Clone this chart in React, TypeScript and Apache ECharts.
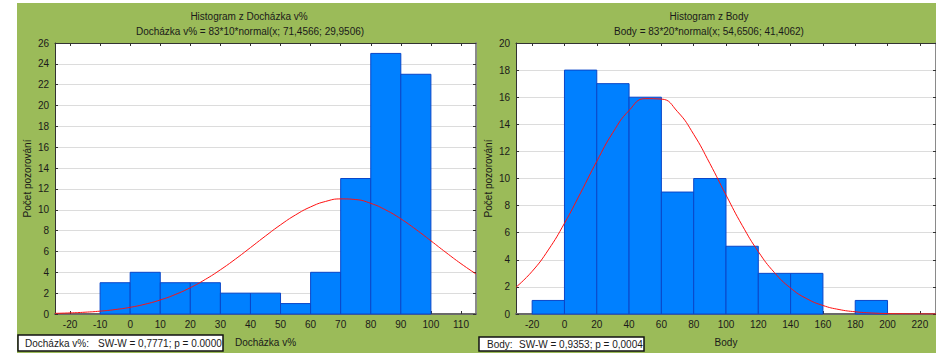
import React, { useEffect, useRef } from "react";
import * as echarts from "echarts";

// ---- Left histogram: Docházka v% ----
const leftBinStarts = [-10, 0, 10, 20, 30, 40, 50, 60, 70, 80, 90];
const leftBinWidth = 10;
const leftCounts = [3, 4, 3, 3, 2, 2, 1, 4, 13, 25, 23];
const leftXTicks = [-20, -10, 0, 10, 20, 30, 40, 50, 60, 70, 80, 90, 100, 110];
const leftCurveX = [-25, -20, -15, -10, -5, 0, 5, 10, 15, 20, 25, 30, 35, 40, 45, 50, 55, 60, 65, 70, 75, 80, 85, 90, 95, 100, 105, 110, 115];
const leftCurveY = [0.062, 0.105, 0.172, 0.274, 0.425, 0.642, 0.943, 1.348, 1.871, 2.527, 3.32, 4.242, 5.27, 6.369, 7.485, 8.554, 9.507, 10.276, 10.802, 11.043, 10.979, 10.615, 9.981, 9.128, 8.117, 7.021, 5.905, 4.83, 3.842];

// ---- Right histogram: Body ----
const rightBinStarts = [-20, 0, 20, 40, 60, 80, 100, 120, 140, 160, 180];
const rightBinWidth = 20;
const rightCounts = [1, 18, 17, 16, 9, 10, 5, 3, 3, 0, 1];
const rightXTicks = [-20, 0, 20, 40, 60, 80, 100, 120, 140, 160, 180, 200, 220];
const rightCurveX = [-30, -20, -10, 0, 10, 20, 30, 40, 50, 60, 70, 80, 90, 100, 110, 120, 130, 140, 150, 160, 170, 180, 190, 200, 210, 220, 230];
const rightCurveY = [1.979, 3.149, 4.727, 6.694, 8.942, 11.268, 13.397, 15.024, 15.893, 15.861, 14.932, 13.261, 11.109, 8.781, 6.546, 4.603, 3.055, 1.911, 1.128, 0.629, 0.33, 0.164, 0.077, 0.034, 0.014, 0.006, 0.002];

const FONT = "'Liberation Sans', Arial, sans-serif";
const TXT = "#1a1a1a";

export default function App() {
  const ref = useRef<HTMLDivElement>(null);
  useEffect(() => {
    if (!ref.current) return;
    const chart = echarts.init(ref.current, null, { renderer: "svg" });

    const renderBar = (params: any, api: any) => {
      const x0 = api.value(0);
      const x1 = api.value(1);
      const c = api.value(2);
      if (!c) return null;
      const p0 = api.coord([x0, c]);
      const p1 = api.coord([x1, 0]);
      return {
        type: "rect",
        shape: { x: p0[0], y: p0[1], width: p1[0] - p0[0], height: p1[1] - p0[1] },
        style: { fill: "#0080ff", stroke: "#0a46c8", lineWidth: 1 },
      };
    };

    const mkX = (grid: number, min: number, max: number, ticks: number[], name: string) => [
      {
        type: "value",
        gridIndex: grid,
        min,
        max,
        position: "bottom",
        name,
        nameLocation: "middle",
        nameGap: 23,
        nameTextStyle: { color: TXT, fontFamily: FONT, fontSize: 10 },
        axisLine: { show: true, onZero: false, lineStyle: { color: "#6a6a6a", width: 2 } },
        axisTick: { show: true, inside: true, length: 3, customValues: ticks, lineStyle: { color: "#333" } },
        axisLabel: { show: true, customValues: ticks, margin: 5, color: TXT, fontFamily: FONT, fontSize: 10 },
        splitLine: { show: false },
      },
      {
        type: "value",
        gridIndex: grid,
        min,
        max,
        position: "top",
        axisLine: { show: true, onZero: false, lineStyle: { color: "#333", width: 1 } },
        axisTick: { show: true, inside: true, length: 3, customValues: ticks, lineStyle: { color: "#333" } },
        axisLabel: { show: false, customValues: ticks },
        splitLine: { show: false },
      },
    ];

    const mkY = (grid: number, max: number) => [
      {
        type: "value",
        gridIndex: grid,
        min: 0,
        max,
        interval: 2,
        position: "left",
        name: "Počet pozorování",
        nameLocation: "middle",
        nameGap: 23,
        nameRotate: 90,
        nameTextStyle: { color: TXT, fontFamily: FONT, fontSize: 10 },
        axisLine: { show: true, onZero: false, lineStyle: { color: "#333", width: 1 } },
        axisTick: { show: true, inside: true, length: 3, lineStyle: { color: "#333" } },
        axisLabel: { show: true, margin: 6, color: TXT, fontFamily: FONT, fontSize: 10 },
        splitLine: { show: true, lineStyle: { color: "#dcdcdc", width: 1 } },
      },
      {
        type: "value",
        gridIndex: grid,
        min: 0,
        max,
        interval: 2,
        position: "right",
        axisLine: { show: true, onZero: false, lineStyle: { color: "#8a8a8a", width: 2 } },
        axisTick: { show: true, inside: true, length: 3, lineStyle: { color: "#333" } },
        axisLabel: { show: false },
        splitLine: { show: false },
      },
    ];

    const leftBars = leftBinStarts.map((s, i) => [s, s + leftBinWidth, leftCounts[i]]);
    const rightBars = rightBinStarts.map((s, i) => [s, s + rightBinWidth, rightCounts[i]]);
    const leftCurve = leftCurveX.map((x, i) => [x, leftCurveY[i]]);
    const rightCurve = rightCurveX.map((x, i) => [x, rightCurveY[i]]);

    const txt = (x: number, y: number, text: string, align = "center") => ({
      type: "text",
      x,
      y,
      z: 10,
      style: { text, fill: TXT, font: `10px ${FONT}`, textAlign: align, textVerticalAlign: "middle" },
    });

    chart.setOption({
      animation: false,
      backgroundColor: "#ffffff",
      grid: [
        { left: 55, top: 43, width: 421, height: 271, show: true, backgroundColor: "#ffffff", borderWidth: 0 },
        { left: 516, top: 43, width: 420, height: 271, show: true, backgroundColor: "#ffffff", borderWidth: 0 },
      ],
      xAxis: [
        ...mkX(0, -25, 115, leftXTicks, "Docházka v%"),
        ...mkX(1, -30, 230, rightXTicks, "Body"),
      ],
      yAxis: [...mkY(0, 26), ...mkY(1, 20)],
      series: [
        {
          type: "custom",
          xAxisIndex: 0,
          yAxisIndex: 0,
          renderItem: renderBar,
          encode: { x: [0, 1], y: 2 },
          data: leftBars,
          z: 2,
        },
        {
          type: "line",
          xAxisIndex: 0,
          yAxisIndex: 0,
          data: leftCurve,
          smooth: true,
          showSymbol: false,
          symbol: "none",
          lineStyle: { color: "#ff1010", width: 1 },
          z: 3,
        },
        {
          type: "custom",
          xAxisIndex: 2,
          yAxisIndex: 2,
          renderItem: renderBar,
          encode: { x: [0, 1], y: 2 },
          data: rightBars,
          z: 2,
        },
        {
          type: "line",
          xAxisIndex: 2,
          yAxisIndex: 2,
          data: rightCurve,
          smooth: true,
          showSymbol: false,
          symbol: "none",
          lineStyle: { color: "#ff1010", width: 1 },
          z: 3,
        },
      ],
      graphic: [
        {
          type: "rect",
          z: -10,
          shape: { x: 17, y: 3, width: 919, height: 350 },
          style: { fill: "#9bbb59" },
          silent: true,
        },
        txt(249, 16, "Histogram z Docházka v%"),
        txt(250, 31, "Docházka v% = 83*10*normal(x; 71,4566; 29,9506)"),
        txt(709, 16, "Histogram z Body"),
        txt(709, 31, "Body = 83*20*normal(x; 54,6506; 41,4062)"),
        {
          type: "rect",
          z: 9,
          shape: { x: 18, y: 335, width: 205, height: 16 },
          style: { fill: "#ffffff", stroke: "#111", lineWidth: 1.5 },
        },
        txt(25, 343.5, "Docházka v%:", "left"),
        txt(98, 343.5, "SW-W = 0,7771; p = 0.0000", "left"),
        {
          type: "rect",
          z: 9,
          shape: { x: 479, y: 337, width: 165, height: 14 },
          style: { fill: "#ffffff", stroke: "#111", lineWidth: 1.5 },
        },
        txt(487, 344.5, "Body:", "left"),
        txt(519, 344.5, "SW-W = 0,9353; p = 0,0004", "left"),
      ],
    });
    return () => chart.dispose();
  }, []);
  return (
    <div
      ref={ref}
      style={{ position: "absolute", left: 0, top: 0, width: 936, height: 353 }}
    />
  );
}
